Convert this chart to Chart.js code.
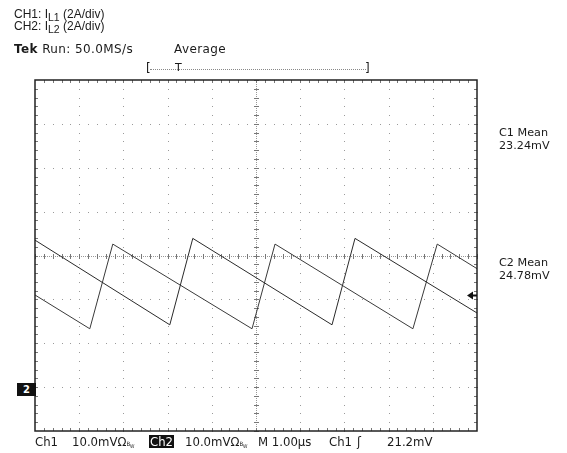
<!DOCTYPE html>
<html>
<head>
<meta charset="utf-8">
<script src="https://cdn.jsdelivr.net/npm/chart.js@4.4.0/dist/chart.umd.min.js"></script>
<style>
  html, body { margin: 0; padding: 0; background: #fff; }
  #wrap { position: relative; width: 567px; height: 453px; overflow: hidden; }
  canvas { position: absolute; left: 0; top: 0; }
  .t { position: absolute; white-space: nowrap; color: #1a1a1a; line-height: 1; }
  .hdr { font-family: 'Liberation Sans', Arial, sans-serif; font-size: 12px; line-height: 12px; }
  .hdr sub { font-size: 10.5px; vertical-align: -3px; line-height: 0; }
  .tek { font-family: 'DejaVu Sans', sans-serif; font-size: 12px; letter-spacing: 0.4px; }
  .bot { font-family: 'DejaVu Sans Condensed', 'DejaVu Sans', sans-serif; font-size: 13px; }
  .side { font-family: 'DejaVu Sans', sans-serif; font-size: 11.2px; line-height: 12.6px; }
  .bw { font-size: 6px; }
  .inv { background: #111; color: #fff; padding: 0 1px; }
  #dots { position: absolute; left: 150px; top: 69px; width: 216px; border-top: 1px dotted #888; }
  #gnd { position: absolute; left: 17px; top: 383px; width: 19px; height: 13px; background: #111;
         color: #fff; font: bold 10px 'DejaVu Sans', sans-serif; line-height: 13px; text-align: center; }
</style>
</head>
<body>
<div id="wrap">
  <canvas id="scope" width="567" height="453"></canvas>

  <div class="t hdr" style="left:14px;top:8px">CH1: I<sub>L1</sub> (2A/div)<br>CH2: I<sub>L2</sub> (2A/div)</div>

  <div class="t tek" style="left:14px;top:43px"><b>Tek</b> Run: 50.0MS/s</div>
  <div class="t tek" style="left:174px;top:43px">Average</div>
  <div class="t tek" style="left:146px;top:62px">[</div>
  <div class="t tek" style="left:175px;top:62px;font-size:11px">T</div>
  <div class="t tek" style="left:365px;top:62px">]</div>
  <div id="dots"></div>

  <div class="t side" style="left:499px;top:127px">C1 Mean<br>23.24mV</div>
  <div class="t side" style="left:499px;top:257px">C2 Mean<br>24.78mV</div>

  <div id="gnd">2</div>

  <div class="t bot" style="left:35px;top:435px">Ch1</div>
  <div class="t bot" style="left:72px;top:435px">10.0mVΩ<span class="bw">B<sub>W</sub></span></div>
  <div class="t bot inv" style="left:149px;top:435px">Ch2</div>
  <div class="t bot" style="left:185px;top:435px">10.0mVΩ<span class="bw">B<sub>W</sub></span></div>
  <div class="t bot" style="left:258px;top:435px">M 1.00µs</div>
  <div class="t bot" style="left:329px;top:435px">Ch1</div>
  <div class="t bot" style="left:357px;top:435px">ʃ</div>
  <div class="t bot" style="left:387px;top:435px">21.2mV</div>
</div>

<script>
// screen is 10 x 8 divisions, values in divisions (centre = 0)
const ch1Time = [0, 3.05, 3.57, 6.72, 7.24, 10];
const ch1Level = [0.35, -1.58, 0.39, -1.58, 0.39, -1.31];
const ch2Time = [0, 1.24, 1.76, 4.91, 5.43, 8.55, 9.10, 10];
const ch2Level = [-0.90, -1.67, 0.26, -1.67, 0.26, -1.67, 0.26, -0.30];
const triggerLevel = -0.90;

const toPoints = (xs, ys) => xs.map((v, i) => ({ x: v, y: ys[i] }));

const graticule = {
    id: 'graticule',
    beforeDatasetsDraw(chart) {
        const { ctx, chartArea: a, scales: { x, y } } = chart;
        const px = v => Math.round(x.getPixelForValue(v));
        const py = v => Math.round(y.getPixelForValue(v));
        ctx.save();
        ctx.fillStyle = '#9a9a9a';
        for (let i = 1; i < 10; i++) {
            if (i === 5) continue;
            for (let k = 0; k <= 40; k++) ctx.fillRect(px(i), py(-4 + k * 0.2), 1, 1);
        }
        for (let j = -3; j <= 3; j++) {
            if (j === 0) continue;
            for (let k = 0; k <= 50; k++) ctx.fillRect(px(k * 0.2), py(j), 1, 1);
        }
        // centre cross
        ctx.fillStyle = '#999';
        for (let X = a.left; X <= a.right; X += 2) ctx.fillRect(X, py(0), 1, 1);
        for (let Y = a.top; Y <= a.bottom; Y += 2) ctx.fillRect(px(5), Y, 1, 1);
        ctx.fillStyle = '#777';
        for (let k = 0; k <= 50; k++) ctx.fillRect(px(k * 0.2), py(0) - 2, 1, 5);
        for (let k = 0; k <= 40; k++) ctx.fillRect(px(5) - 2, py(-4 + k * 0.2), 5, 1);
        // edge ticks
        for (let k = 1; k < 50; k++) {
            ctx.fillRect(px(k * 0.2), a.top, 1, 3);
            ctx.fillRect(px(k * 0.2), a.bottom - 3, 1, 3);
        }
        for (let k = 1; k < 40; k++) {
            ctx.fillRect(a.left, py(-4 + k * 0.2), 3, 1);
            ctx.fillRect(a.right - 3, py(-4 + k * 0.2), 3, 1);
        }
        ctx.restore();
    },
    afterDatasetsDraw(chart) {
        const { ctx, chartArea: a, scales: { y } } = chart;
        ctx.save();
        ctx.strokeStyle = '#222';
        ctx.lineWidth = 1.5;
        ctx.strokeRect(a.left, a.top, a.right - a.left, a.bottom - a.top);
        // trigger level arrow
        const ty = Math.round(y.getPixelForValue(triggerLevel)) + 0.5;
        ctx.fillStyle = '#111';
        ctx.beginPath();
        ctx.moveTo(a.right - 10, ty);
        ctx.lineTo(a.right - 4, ty - 4);
        ctx.lineTo(a.right - 4, ty + 4);
        ctx.closePath();
        ctx.fill();
        ctx.fillRect(a.right - 5, ty - 1, 5, 2);
        ctx.restore();
    }
};

new Chart(document.getElementById('scope'), {
    type: 'scatter',
    data: {
        datasets: [
            { label: 'CH1', data: toPoints(ch1Time, ch1Level), borderColor: '#2a2a2a' },
            { label: 'CH2', data: toPoints(ch2Time, ch2Level), borderColor: '#3a3a3a' }
        ]
    },
    options: {
        responsive: false,
        animation: false,
        showLine: true,
        layout: { padding: { left: 35, top: 80, right: 90, bottom: 22 } },
        elements: { point: { radius: 0 }, line: { borderWidth: 1, tension: 0 } },
        plugins: { legend: { display: false }, tooltip: { enabled: false } },
        scales: {
            x: { type: 'linear', min: 0, max: 10, display: false },
            y: { type: 'linear', min: -4, max: 4, display: false }
        }
    },
    plugins: [graticule]
});
</script>
</body>
</html>
